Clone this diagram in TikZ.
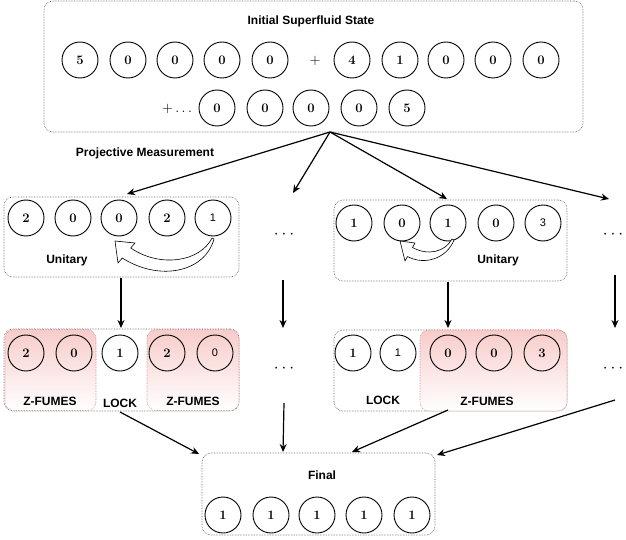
\documentclass[tikz,border=0pt]{standalone}
\usepackage{fontspec}
\newfontfamily\labfont{Liberation Sans}
\usetikzlibrary{arrows.meta,calc}
\definecolor{pinkfill}{RGB}{247,204,202}
\definecolor{pinkline}{RGB}{205,130,128}
\begin{document}
\begin{tikzpicture}[x=1pt,y=-1pt,
 qb/.style={circle,draw,line width=0.9pt,minimum size=36pt,inner sep=0pt,font=\fontsize{13}{13}\selectfont\bfseries},
 qbs/.style={qb,font=\labfont\fontsize{11}{11}\selectfont},
 grp/.style={draw=black!65,densely dotted,line width=0.6pt,rounded corners=9pt,inner sep=0pt},
 zf/.style={draw=pinkline,densely dotted,line width=0.6pt,rounded corners=9pt,top color=pinkfill,bottom color=white,inner sep=0pt},
 lab/.style={font=\labfont\bfseries\fontsize{12}{12}\selectfont,inner sep=0pt},
 arr/.style={line width=1.2pt,-{Stealth[length=8pt,width=7pt]}},
 dotsn/.style={font=\fontsize{14}{14}\selectfont,inner sep=0pt},
 ell/.style={font=\fontsize{17}{17}\selectfont,inner sep=0pt},
 flex/.style={draw=black,fill=white,line width=0.6pt,line join=round}
]
\useasboundingbox (0,0) rectangle (626,540);

% group boxes
\node[grp,minimum width=539pt,minimum height=131pt] (top) at (313.5,66.5) {};
\node[grp,minimum width=235pt,minimum height=80pt] (ml) at (121.5,237) {};
\node[grp,minimum width=233pt,minimum height=81pt] (mr) at (450.5,240.5) {};
\node[grp,minimum width=235pt,minimum height=82pt] (bl) at (121.5,370) {};
\node[grp,minimum width=233pt,minimum height=81pt] (br) at (450.5,370.5) {};
\node[grp,minimum width=233pt,minimum height=82pt] (fin) at (318.5,494) {};
% z-fumes
\node[zf,minimum width=91pt,minimum height=81pt] (z1) at (50.5,370) {};
\node[zf,minimum width=92pt,minimum height=81pt] (z2) at (193,370) {};
\node[zf,minimum width=147pt,minimum height=81pt] (z3) at (493.5,370.5) {};

% labels
\node[lab] (tTitle) at (311,21) {Initial Superfluid State};
\node[lab] (tProj) at (145,153) {Projective Measurement};
\node[lab] (tUl) at (67,260) {Unitary};
\node[lab] (tUr) at (498,260) {Unitary};
\node[lab] (tZ1) at (50,401) {Z-FUMES};
\node[lab] (tL1) at (120,403) {LOCK};
\node[lab] (tZ2) at (193,401) {Z-FUMES};
\node[lab] (tL2) at (383,400) {LOCK};
\node[lab] (tZ3) at (487,401) {Z-FUMES};
\node[lab] (tFin) at (322,475) {Final};

% top state
\node[qb] (a1) at (80,60) {5};
\node[qb] (a2) at (128,60) {0};
\node[qb] (a3) at (175,60) {0};
\node[qb] (a4) at (222,60) {0};
\node[qb] (a5) at (270,60) {0};
\node[dotsn] (plus1) at (315,61) {$+$};
\node[qb] (b1) at (352,60) {4};
\node[qb] (b2) at (400,60) {1};
\node[qb] (b3) at (446,60) {0};
\node[qb] (b4) at (493,60) {0};
\node[qb] (b5) at (541,60) {0};
\node[dotsn] (plus2) at (177,109) {$+\ldots$};
\node[qb] (c1) at (217,108) {0};
\node[qb] (c2) at (265,108) {0};
\node[qb] (c3) at (311,108) {0};
\node[qb] (c4) at (359,108) {0};
\node[qb] (c5) at (407,108) {5};

% middle left
\node[qb] (m1) at (26,218) {2};
\node[qb] (m2) at (73,218) {0};
\node[qb] (m3) at (119,218) {0};
\node[qb] (m4) at (167,218) {2};
\node[qbs] (m5) at (213,218) {1};
% middle right
\node[qb] (n1) at (354,223) {1};
\node[qb] (n2) at (402,223) {0};
\node[qb] (n3) at (448,223) {1};
\node[qb] (n4) at (496,223) {0};
\node[qbs] (n5) at (543,223) {3};
% bottom left
\node[qb] (p1) at (26,353) {2};
\node[qb] (p2) at (74,353) {0};
\node[qb] (p3) at (120,353) {1};
\node[qb] (p4) at (167,353) {2};
\node[qbs] (p5) at (215,353) {0};
% bottom right
\node[qb] (q1) at (353,353) {1};
\node[qbs] (q2) at (398,353) {1};
\node[qb] (q3) at (448,353) {0};
\node[qb] (q4) at (494,353) {0};
\node[qb] (q5) at (542,353) {3};
% final
\node[qb] (f1) at (223,515) {1};
\node[qb] (f2) at (271,515) {1};
\node[qb] (f3) at (317,515) {1};
\node[qb] (f4) at (364,515) {1};
\node[qb] (f5) at (412,515) {1};

% ellipses
\node[ell] (e1) at (284,235) {$\cdots$};
\node[ell] (e2) at (613,235) {$\cdots$};
\node[ell] (e3) at (284,369) {$\cdots$};
\node[ell] (e4) at (613,369) {$\cdots$};

% coordinates
\coordinate (src) at (330,132);
\coordinate (tgA) at (127,194);
\coordinate (tgB) at (293,193);
\coordinate (tgC) at (447,199);
\coordinate (tgD) at (609,199);
\coordinate (e1s) at (283,280);
\coordinate (e1t) at (283,328);
\coordinate (e2s) at (615,275);
\coordinate (e2t) at (615,328);
\coordinate (e3s) at (284,403);
\coordinate (e4s) at (615,400);
\coordinate (mlb) at (121,278);
\coordinate (blt) at (121,328);
\coordinate (mrb) at (448,282);
\coordinate (brt) at (448,328);
\coordinate (blb) at (120,412);
\coordinate (z3b) at (448,410);
\coordinate (finA) at (199,454);
\coordinate (finB) at (283,452);
\coordinate (finC) at (352,452);
\coordinate (finD) at (437,455);

\draw[arr] (src) -- (tgA);
\draw[arr] (src) -- (tgB);
\draw[arr] (src) -- (tgC);
\draw[arr] (src) -- (tgD);
\draw[arr] (mlb) -- (blt);
\draw[arr] (e1s) -- (e1t);
\draw[arr] (mrb) -- (brt);
\draw[arr] (e2s) -- (e2t);
\draw[arr] (blb) -- (finA);
\draw[arr] (e3s) -- (finB);
\draw[arr] (z3b) -- (finC);
\draw[arr] (e4s) -- (finD);

% flex arrows (unitary)
\draw[flex] (212,238) .. controls (200,262) and (160,268) .. (130.75,248) -- (135,243) -- (115,241) -- (118,263) -- (122.25,258) .. controls (160,282) and (205,272) .. (214,239) -- cycle;
\draw[flex] (452,239) .. controls (445,252) and (428,256) .. (412.5,247.5) -- (415,243) -- (400,241) -- (405,261) -- (407.5,256.5) .. controls (425,266) and (447,258) .. (454,240) -- cycle;
\end{tikzpicture}
\end{document}
